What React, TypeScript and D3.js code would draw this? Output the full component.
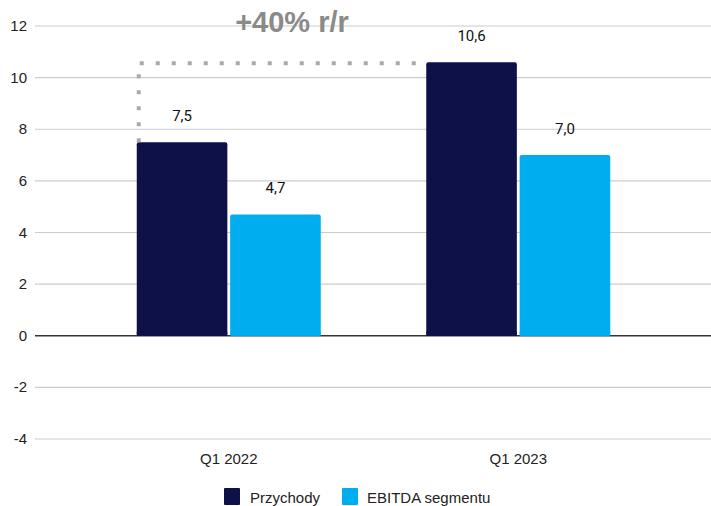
import React from "react";
import * as d3 from "d3";

const categories = ["Q1 2022", "Q1 2023"];
const seriesNames = ["Przychody", "EBITDA segmentu"];
const przychody = [7.5, 10.6];
const ebitda = [4.7, 7.0];
const yTicks = [-4, -2, 0, 2, 4, 6, 8, 10, 12];
const annotation = "+40% r/r";

const colors = ["#0d1148", "#00aeef"];

export default function App() {
  const W = 711, H = 506;
  const y = d3.scaleLinear().domain([-4, 12]).range([439, 26]);
  const x0 = d3.scaleBand().domain(categories).range([84, 663]).paddingInner(0).paddingOuter(0);
  const x1 = d3.scaleBand().domain(seriesNames).range([-92, 92]).paddingInner(0.03);
  const series = [przychody, ebitda];
  const fmt = (v: number) => v.toFixed(1).replace(".", ",");
  const cx = (c: string) => (x0(c) as number) + x0.bandwidth() / 2;
  const xa = cx(categories[0]) + (x1(seriesNames[0]) as number) + 2;
  const xb = cx(categories[1]) + (x1(seriesNames[0]) as number);
  const yTop = y(przychody[1]) + 1;
  return (
    <svg width={W} height={H} style={{ position: "absolute", left: 0, top: 0, background: "#fff" }}>
      {yTicks.map((t) => (
        <g key={t}>
          <line x1={35} x2={W} y1={y(t)} y2={y(t)} stroke={t === 0 ? "#333" : "#ccc"} strokeWidth={t === 0 ? 1.5 : 1.2} />
          <text x={27} y={y(t) + 5} textAnchor="end" fontFamily="Liberation Sans, Arial" fontSize={15} fill="#222">{t}</text>
        </g>
      ))}
      {categories.map((c, ci) => (
        <g key={c}>
          {seriesNames.map((s, si) => {
            const v = series[si][ci];
            const bx = cx(c) + (x1(s) as number);
            const bw = x1.bandwidth();
            return (
              <g key={s}>
                <rect x={bx} y={y(v)} width={bw} height={y(0) - y(v)} fill={colors[si]} rx={2} />
                <rect x={bx} y={y(0) - 4} width={bw} height={4} fill={colors[si]} />
                <text x={bx + bw / 2} y={y(v) - 21} textAnchor="middle" fontFamily="Roboto, Arial" fontSize={15} fill="#111">{fmt(v)}</text>
              </g>
            );
          })}
          <text x={cx(c)} y={464} textAnchor="middle" fontFamily="Liberation Sans, Arial" fontSize={15} fill="#222">{c}</text>
        </g>
      ))}
      <path d={`M${xa},${y(przychody[0])} L${xa},${yTop} L${xb},${yTop}`} fill="none" stroke="#aaa" strokeWidth={4} strokeDasharray="4 12" />
      <text x={292} y={32} textAnchor="middle" fontFamily="Liberation Sans, Arial" fontWeight="bold" fontSize={29} fill="#8a8a8a">{annotation}</text>
      <rect x={224} y={488} width={16} height={17} fill={colors[0]} rx={1} />
      <text x={250} y={503} fontFamily="Liberation Sans, Arial" fontSize={15} fill="#222">{seriesNames[0]}</text>
      <rect x={342} y={488} width={16} height={17} fill={colors[1]} rx={1} />
      <text x={367} y={503} fontFamily="Liberation Sans, Arial" fontSize={15} fill="#222">{seriesNames[1]}</text>
    </svg>
  );
}
